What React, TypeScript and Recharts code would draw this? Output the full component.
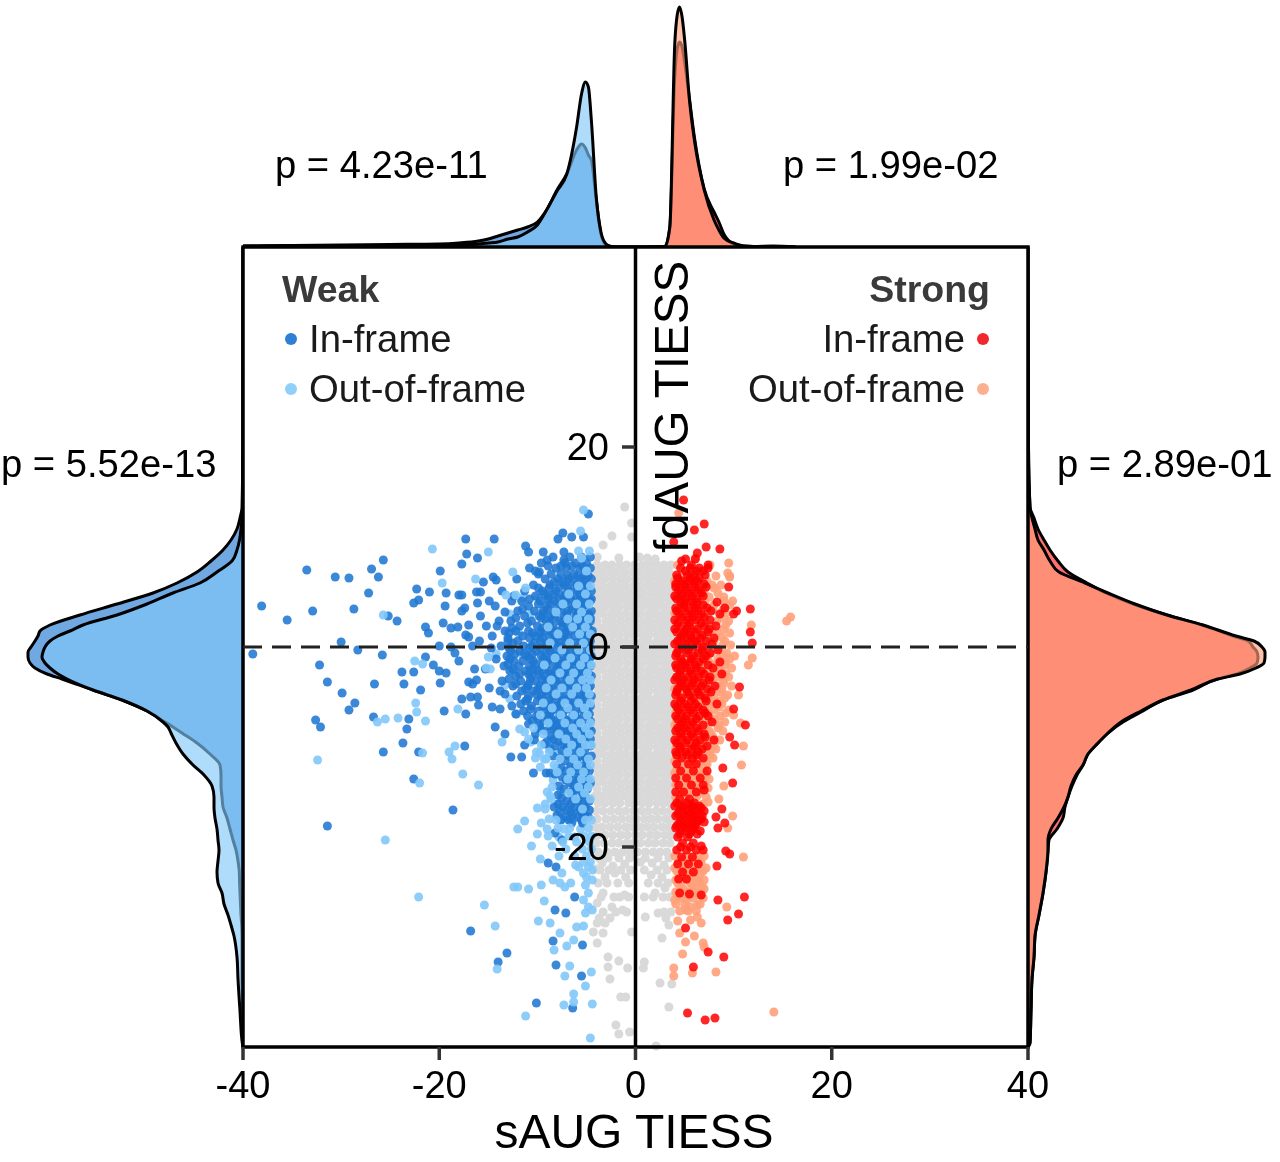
import React from 'react';
import { AreaChart, Area, ScatterChart, Scatter, XAxis, YAxis, ZAxis, ReferenceLine, ReferenceArea } from 'recharts';

// --- marginal densities, heights in px-like units above the panel edge ---
const weakTopX = [-40,-30,-25,-20,-18,-16,-15,-14,-13,-12,-11,-10,-9,-8,-7,-6,-5.5,-5.1,-4.8,-4.5,-4,-3.5,-3,-2.5,-2,0];
const weakTopIn = [1,2,2.5,3,4,6,8,11,14,17,20,25,38,57,73,97,103,99,92,87,47,12,2,0.5,0,0];
const weakTopOut = [1,1.5,1.5,1.5,2,3,4,5,8,10,15,22,38,56,73,120,153,165,160,127,50,14,3,0.5,0,0];
const strongTopX = [0,3,3.5,4,4.25,4.5,4.75,5,5.5,6,7,8,8.5,9,10,11,12,14,16.3];
const strongTopIn = [0,0.5,20,170,198,205,200,185,148,110,58,35,25,13,3,1,0.5,0.5,0];
const strongTopOut = [0,0.5,20,203,232,240,230,208,147,107,57,27,17,9,4,1,0.5,1,0];

const leftY = [40,20,13.9,12.9,11.8,10.7,9.7,8.6,7.5,6.4,5.4,4.3,3.2,2.2,1.6,1.1,0.6,0,-0.5,-1,-1.6,-2.1,-2.7,-3.2,-4.3,-5.3,-6.4,-7.5,-8,-8.6,-9.6,-10.7,-11.8,-12.8,-13.9,-15,-16,-17.1,-18.2,-19.3,-20.3,-21.4,-22.5,-23.6,-24.6,-25.7,-26.8,-27.8,-28.9,-31,-33.2,-36.4,-39.6,-40];
const leftIn = [0,0.2,1,3,6,12,20,32,46,66,90,126,163,193,203,205,208,212,215,215,213,208,196,181,150,121,96,78,70,61,46,33,23,22,22,21,20,16,13,10,7,5,3.7,3.4,3,2.5,2,1.3,1,1,1,0.7,0.3,0];
const leftOut = [0,0.2,0.5,1,2,3.5,6,11,26,43,70,96,126,160,173,185,193,198,200,201,198,193,185,176,150,121,96,80,75,72,67,60,50,39,31,29,29,28,26,25,24,25,26,25,21,19,15,12,9,6,5,3,0.7,0];

const rightY = [40,20,14,12.9,11.8,10.7,9.7,8.6,7.5,6.4,5.4,4.3,3.2,2.2,1.1,0.6,0,-0.5,-1,-1.6,-2.1,-2.7,-3.2,-4.3,-5.3,-6.4,-7.5,-8.6,-9.6,-10.7,-11.8,-12.8,-13.9,-15,-16,-17.1,-18.2,-19.3,-20.3,-22.5,-24.6,-26.8,-28.9,-31,-33.2,-36.4,-39.6,-40];
const rightIn = [0,0.5,2,6,10,16,22,30,40,59,78,105,139,174,205,220,225,229,230,229,222,209,189,165,135,115,95,80,70,60,55,49,44,40,37,35,29,21,20,18,15,11,7,6,4,3,2,0];
const rightOut = [0,0.5,2,4,7,10,16,22,31,57,80,107,139,175,208,226,234,237,237,236,228,212,190,163,135,113,93,80,70,60,55,48,43,40,36,30,23,20,20,18,15,11,7,6,4,3,2,0];

// --- scatter points: sparse ones as [x, y], dense ones as rows of [y, x, x, ...] ---
const weakInSparse = [[-38.1,4.1],[-35.5,2.7],[-32.9,3.6],[-33.5,7.7],[-30.6,7],[-29.2,6.9],[-26.9,7.8],[-26.2,7],[-25.7,8.7],[-27.2,5.4],[-28.7,3.8],[-30,0.5],[-39,-0.7],[-28.3,-0.3],[-25.8,-0.8],[-32.2,-1.8],[-31.4,-3.5],[-29.9,-4.6],[-28.6,-5.6],[-29.2,-6.3],[-26.6,-3.7],[-23.6,-3.7],[-23.8,-2.5],[-22.6,-2.5],[-21.9,-4.3],[-20.6,-1.8],[-20,-2.4],[-19.3,-2.6],[-19.9,-3.6],[-21.4,-1],[-32.6,-7.3],[-32.1,-8],[-26.7,-7],[-23.3,-8.2],[-23.1,-7.2],[-23.7,-9.6],[-25.7,-10.5],[-22.1,-10.5],[-19.5,-6.4],[-17.3,-6.7],[-17.7,-5.2],[-16.8,-5],[-16,-5.8],[-16.1,-5],[-14.6,-6],[-13.8,-6.2],[-14.3,-8],[-13.3,-8.7],[-11.3,-9.8],[-10.3,-9.3],[-17.4,-9.9],[-12.7,-11],[-11.6,-11],[-10.4,-12.6],[-9.1,-12.6],[-8.7,-12.6],[-22.6,-13.2],[-17.3,10.8],[-14.4,10.8],[-17.2,9.3],[-16.1,8.9],[-17.7,8.3],[-19.9,7.6],[-22.3,5.8],[-22.1,4.7],[-22.6,4.4],[-21,5.5],[-19.3,5.4],[-18,5.2],[-17.7,5.2],[-19.4,4.1],[-17.4,3.9],[-17.7,3.6],[-16.2,5.5],[-15.8,5.5],[-16.1,4.4],[-14.5,7],[-14.2,6.7],[-15.5,6.5],[-14.3,4.1],[-13.3,3.5],[-12.6,4.6],[-25.2,3.1],[-24.3,2.6],[-21.4,2],[-21.1,1.4],[-19.6,2.4],[-18.8,1.9],[-18.1,2],[-17,2.2],[-17.3,1.2],[-17,1],[-20,0.1],[-18.8,0],[-18.4,-0.6],[-18,-1.4],[-16.4,-2.2],[-17,-3.5],[-16.2,-3.3],[-16.6,-3.7],[-14.9,-4.1],[-13.8,-4.4],[-11.2,10.1],[-10.9,9.5],[-9.4,9.5],[-9,8.7],[-7.9,10.8],[-7.4,11.4],[-6.5,11],[-4.8,13.3],[-5.3,11],[-10.2,7.6],[-9.8,7.5],[-7.3,8.7],[-7.3,9.5],[-18.6,-16.3],[-31.4,-17.9],[-16.8,-28.4],[-13.1,-30.6],[-14,-31.5],[-8.4,-29.4],[-8.1,-31.8],[-5.5,-32.9],[-10.1,-35.6],[-6.4,-36.1],[-5.4,-29.8],[-8.2,-26.3],[-7.1,-26.6],[-6.2,-25],[-8.9,-21.6],[-8.1,-22],[-8.2,-18.6],[-7.5,-19.3]];
const weakInDense = [
  [8.4,-9.6,-7.2,-6.1,-5],[7.9,-10.8,-8.1,-7,-5.7,-4.6],[7.3,-9.9,-8.6,-7.6,-6.3,-5.2],[6.8,-12.1,-9.2,-7.9,-6.8,-5.6,-4.5],
  [6.2,-10.4,-8.7,-7.2,-6,-4.9],[5.6,-13.6,-11.3,-9.5,-8.1,-6.6,-5.4,-4.5],[5.1,-12.4,-10.2,-8.9,-7.4,-6.2,-5],[4.6,-14.9,-11.6,-9.7,-8.3,-7.1,-5.7,-4.6],
  [4.1,-10.9,-9.1,-7.8,-6.5,-5.3],[3.6,-12,-10.3,-9.4,-8,-6.9,-5.8,-4.5],[3.1,-15.8,-11.3,-9.8,-8.6,-7.3,-6.1,-5],[2.6,-13.9,-12.7,-10.6,-9.1,-7.7,-6.4,-5.4,-4.6],
  [2.1,-15.2,-14.1,-11.8,-10,-8.4,-7,-5.9],[1.6,-13.3,-12.2,-10.9,-9.3,-8,-6.7,-5.2,-4.4],[1.1,-14.6,-11.5,-10.2,-8.8,-7.5,-6.2,-4.9],[0.6,-15.9,-13,-12,-9.7,-8.3,-7.1,-5.6,-4.6],
  [0.1,-16.6,-13.7,-11.4,-10.6,-9.1,-7.8,-6.4,-5.1],[-0.4,-12.7,-11.8,-10.1,-8.7,-7.3,-6,-4.7],[-0.9,-13.1,-11,-9.6,-8.2,-6.9,-5.5,-4.5],[-1.4,-12.4,-11.5,-10.4,-9,-7.6,-6.3,-5],
  [-1.9,-13.4,-11.9,-10.8,-9.5,-8.1,-7,-5.7,-4.6],[-2.4,-12.8,-11.2,-10,-8.8,-7.4,-6.1,-5.2],[-2.9,-12.2,-10.6,-9.3,-8.3,-6.8,-5.5,-4.5],[-3.4,-13.6,-11.7,-10.2,-9,-7.7,-6.4,-4.9],
  [-3.9,-12.5,-11,-9.7,-8.5,-7.2,-5.9,-4.6],[-4.4,-11.6,-10.4,-9.2,-7.9,-6.6,-5.3],[-4.9,-12.1,-10.9,-9.6,-8.4,-7,-5.7,-4.5],[-5.4,-11.2,-10,-8.8,-7.5,-6.2,-5],
  [-5.9,-12.6,-10.6,-9.3,-8,-6.8,-5.5,-4.6],[-6.4,-11.4,-9.9,-8.6,-7.3,-6.1,-4.9],[-6.9,-11,-10.1,-9,-7.7,-6.4,-5.3],[-7.4,-10.5,-9.4,-8.2,-7,-5.8,-4.6],
  [-7.9,-9.8,-8.7,-7.5,-6.2,-5],[-8.4,-9.2,-8,-6.8,-5.6,-4.5],[-8.9,-8.6,-7.3,-6.1,-5.1],[-9.4,-9,-7.8,-6.6,-5.4],
  [-9.9,-8.2,-7,-5.8,-4.6],[-10.4,-7.5,-6.3,-5.2],[-10.9,-8.4,-6.8,-5.6,-4.5],[-11.4,-7.2,-6,-4.9],[-11.9,-6.6,-5.4],[-12.4,-7.1,-5.9,-4.7],
  [-13,-7.5,-6.2,-5.1],[-13.6,-6.7,-5.6,-4.6],[-14.2,-7.3,-6,-4.9],[-14.8,-7.9,-6.4,-5.3],[-15.4,-7,-5.8,-4.7],[-16,-8.3,-7.4,-6.2,-5.1],[-16.5,-7.7,-6.6,-5.5],[-17,-7.1,-5.9,-4.8],[-17.6,-6.5,-5.4]
];
const weakInFill = [
  [9,-8.4,-6.7,-5.5,-4.6],[8.1,-8.9,-7.6,-6.5,-5.4],[7.1,-6.9,-5.9,-4.8],[6.5,-8.3,-7.4,-6.4,-5.3],[5.9,-9.9,-8.8,-7.8,-6.9,-5.9,-4.8],[5.3,-9.3,-8.3,-7.1,-5.7],[4.8,-10.8,-8.9,-7.8,-6.6,-5.4,-4.5],[4.3,-9.9,-8.6,-7.4,-6.1,-5],[3.8,-11.5,-8.9,-7.6,-6.4,-5.5],[3.3,-9.4,-8.2,-7,-5.9,-4.8],
  [2.9,-12.2,-9.6,-8.3,-7,-5.7,-4.6],[2.4,-11,-8.8,-7.5,-6.2,-5.1],[1.9,-12.6,-9.5,-8.7,-7.4,-6.1,-4.8],[1.4,-12.9,-10.5,-9.7,-8.5,-7.2,-5.8,-4.6],[0.9,-13,-10.8,-9.5,-8.1,-6.9,-5.5],[0.4,-12.5,-10.3,-9,-7.7,-6.3,-5],
  [-0.1,-14.7,-12.9,-10.8,-9.7,-8.5,-7.1,-5.8,-4.6],[-0.7,-12.3,-11.3,-10.5,-9.2,-7.9,-6.6,-5.2],[-1.2,-14.2,-12.8,-10.7,-9.4,-8.5,-7.2,-5.9,-4.7],[-1.7,-13,-10.1,-8.9,-7.8,-6.5,-5.3],[-2.2,-15.3,-12.5,-10.5,-9.3,-8,-6.7,-5.5],[-2.7,-11.8,-10.9,-9.8,-8.6,-7.3,-6,-4.8],
  [-3.2,-12.9,-10.7,-9.5,-8.2,-7,-5.7],[-3.7,-12.2,-10.9,-9.1,-7.9,-6.6,-5.2],[-4.2,-11.2,-9.9,-8.7,-7.5,-6.2,-4.8],[-4.7,-13.3,-10.1,-8.9,-7.7,-6.3,-5.1],[-5.2,-11,-9.5,-8.2,-6.9,-5.6],[-5.7,-11.7,-8.9,-7.6,-6.4,-4.9],[-6.2,-10.7,-9.4,-8.1,-6.8,-5.4],[-6.7,-12.2,-8.8,-7.5,-6.2,-4.7],[-7.2,-9.9,-8.6,-7.2,-5.9],[-7.7,-10.9,-7.9,-6.6,-5.3],
  [-8.2,-9.7,-8.4,-7.1,-5.8,-4.7],[-8.7,-10.2,-7.6,-6.4,-5.2],[-9.2,-8.3,-7,-5.7,-4.6],[-9.7,-9.3,-7.4,-6.2,-5],[-10.2,-8.7,-6.9,-5.6],[-11.1,-7.7,-6.4,-5.1],[-12.1,-7.6,-6.2,-5],[-12.7,-8.2,-6.7,-5.4],[-13.3,-7.1,-5.9,-4.8],[-13.9,-7.8,-6.3,-5.1],[-14.5,-6.6,-5.5],[-15.1,-7.5,-6.3,-5],[-15.7,-7.9,-6.6,-5.4],[-16.3,-7,-5.7,-4.7],[-16.8,-8,-6.4,-5.2],[-17.3,-7.6,-6.8,-5.5]
];
const weakOutSparse = [[-20.7,9.8],[-15,9.5],[-12.5,7.5],[-19.7,6.4],[-16.3,6.8],[-25.7,3.2],[-22.5,-1.4],[-21.7,-1.7],[-22.4,-5.6],[-22.3,-6.5],[-26.3,-7.5],[-25.5,-7.2],[-24.2,-7.1],[-21.4,-7.4],[-18.1,-6.2],[-32.4,-11.3],[-21.7,-10.6],[-19,-10.5],[-18.4,-9.9],[-18.7,-11.2],[-17.6,-12.7],[-15,-1],[-15.2,-2.1],[-13.6,-9.5],[-11.3,-8.5],[-10.2,-11.1],[-9.3,-11.2],[-11.2,5.9],[-13.2,5.2],[-12.2,5.2],[-5.3,13.7],[-5.6,11.6],[-25.5,-19.3],[-22,-13.6],[-16,-13.8],[-22.1,-25],[-15.4,-25.8],[-14.3,-27.9],[-14.1,-32.2],[-11.2,-36.9],[-9.9,-27.4],[-8.7,-27.6],[-7.7,-28.6],[-7,-29.9],[-6.3,-29.3],[-8.3,-30.3],[-6.7,-31.9],[-7.2,-32.9],[-5.1,-33.9],[-4.5,-32.5],[-6.3,-34.7],[-6.3,-35.5],[-7.3,-35.8],[-4.4,-35.7],[-4.6,-39.1],[-12.4,-24],[-12,-24],[-10.9,-24.2],[-9.6,-23.8],[-9.3,-25.4],[-12,-18.2],[-11.3,-17.4],[-10,-16.1],[-8.7,-14.9],[-10.6,-19.9],[-10,-18.7],[-9.6,-17.6],[-9.7,-21.2],[-8.5,-19.9],[-8.4,-23.3],[-7.7,-23.6],[-7.2,-24],[-6.6,-23.6],[-6,-28],[-5.3,-27.9],[-7.5,-22.6],[-6.1,-21.8],[-5,-23],[-4.4,-23.3],[-5.1,-23.8],[-4.8,-24.6],[-5.3,-25.3],[-4.8,-26],[-5.1,-26.6],[-4.4,-22.3],[-5.3,-22.6],[-4.4,-26.3]];
const weakOutBack = [
  [6.5,-5.2,-7.6],[4.9,-11.5,-9.9,-6.9],[3.3,-12.8,-10.7,-8.9],[1.4,-11.9,-9.9,-7.1],[-0.7,-14.2,-11.6,-8.9,-6.5],[-2.2,-14.8,-12.4,-10.4,-7.2],[-3.8,-13.3,-9.9,-6.8],[-5.2,-12.8,-9.7,-7.6],
  [-6.7,-12.1,-8.4,-6.2],[-8.2,-11.8,-9.8,-7.9],[-9.5,-10.7,-8.7,-6.7],[-10.6,-9.8,-7.9,-6.4],[-12,-9.7,-8,-6.5],[-13.3,-8.4,-7,-5.7],[-14.5,-9,-7.6,-6.3],[-15.7,-9.2,-7.8,-6.5],[-17.2,-8.8,-7.5,-6.3],[-18.2,-9,-7.3,-5.6],[-19,-7.8,-6.2]
];
const weakOutFront = [
  [9.6,-5.8,-4.7],[8.9,-5.5],[7.6,-5],[6.1,-5.8,-4.6],[5.3,-6.8,-5.1],[4.3,-7.4,-6,-4.7],[3.5,-8.1,-5.5],[2.8,-6.9,-5.9,-4.8],[2,-8.9,-6.4,-5.1],[1.3,-7.9,-5.7,-4.6],[0.4,-8.7,-6.7,-5.3],
  [-0.3,-7.5,-5.8,-4.6],[-1.1,-8.2,-6.6,-5.2],[-1.8,-9.3,-7.1,-5.6,-4.5],[-2.6,-7.7,-6.3,-4.9],[-3.3,-8.6,-6.7,-5.4,-4.6],[-4.1,-9.1,-7.5,-6,-5],[-4.7,-8.1,-6.5,-4.7],[-5.6,-9.4,-7.2,-5.8,-4.6],
  [-6.1,-8.5,-6.9,-5.2],[-6.8,-9.7,-7.6,-6.3,-4.9],[-7.6,-8.9,-7.2,-5.6,-4.6],[-8.1,-10.4,-6.4,-5.1],[-8.7,-9.4,-7.8,-6,-4.7],[-9.2,-10.9,-7.1,-5.5],[-9.8,-9.6,-6.5,-5.1,-4.5],[-10.5,-10.1,-8.8,-6.9,-5.6],[-11.2,-9.1,-7.7,-6.3,-4.8],[-11.8,-8.3,-5.9,-4.6],[-12.5,-8,-6.6,-5.3],
  [-13.2,-6.9,-5.5,-4.6],[-14,-8.5,-5.8,-4.8],[-14.6,-6.8,-5.2],[-15.2,-8.6,-6.1,-4.6],[-16.2,-9.2,-5.4],[-17.3,-8.1,-5.1,-4.5],[-18.1,-7.9,-6.7,-4.8],[-18.9,-8.9,-6.8,-5.2,-4.5],[-19.5,-7.4,-6,-4.7],[-20.2,-7.1,-5.4,-4.5],[-20.9,-7.8,-6.2,-5],[-21.5,-5.3,-4.6],[-22,-5.8,-4.8]
];
const strongInSparse = [[4.9,14.7],[7,12.3],[6,11.7],[3.9,10.5],[7.2,10],[8.6,9.8],[4.7,8.6],[5.7,8.2],[6.3,9.4],[7.4,8.2],[9.5,6],[11.7,3.8],[10.3,3.6],[11.7,1.5],[11.9,0.4],[10.6,-4],[11.2,-7.8],[10,-6.2],[9.6,-9],[10.1,-9.8],[8.9,-12.1],[9.9,-13.6],[7,-14.3],[8.8,-16.2],[8.2,-17],[8.4,-18.1],[9.1,-17.6],[7,-17.5],[9.2,-20.4],[9.6,-20.7],[8.3,-21.9],[6.7,-19.9],[8.4,-25.3],[11.1,-25],[10.5,-26.7],[9.4,-27.3],[5.1,-28.1],[7.4,-30.5],[9,-31],[5.9,-32],[5.3,-36.6],[7.1,-37.3],[8.1,-37.1],[4.5,-24.6],[5.5,-24.7],[6.7,-24.8]];
const strongInDense = [
  [7.6,5.1,6.2,6.9],[6.9,4.3,5.6,6.5],[6.3,4.1,4.9,5.9,7],[5.7,4.4,5.3,6.4],[5.1,4,4.8,5.8,6.9],[4.5,4.6,5.5,6.3,8.3],[3.9,4.1,5,6.1,7.3,9.1],[3.3,4.5,5.7,6.7,8.6,10],[2.7,4,5.2,6.2,7.6],[2.1,4.7,5.5,7,8.2],
  [1.5,4.2,5,6,7.4],[0.9,4.6,5.7,6.6,8],[0.3,4,5.1,6.3,7.8],[-0.3,4.4,5.4,6.8,8.4],[-0.9,4.1,5.9,7.2],[-1.5,4.8,5.6,6.5,8.6],[-2.1,4.2,5.2,6.2,7.9],[-2.7,4.5,5.8,7,8.8],[-3.3,4,4.9,6,7.5],[-3.9,4.6,5.5,6.7,8.1],
  [-4.5,4.2,5.3,6.4,7.7],[-5.1,4.7,5.9,7.1],[-5.7,4,5,6.1,8.3],[-6.3,4.4,5.6,6.9],[-6.9,4.1,5.2,6.5,7.4],[-7.5,4.8,5.8,7.8],[-8.1,4.3,5,6.2],[-8.7,4.6,5.7,7],[-9.3,4,5.3,6.6,8],[-9.9,4.5,6,7.3],
  [-10.5,4.1,5.1,6.4],[-11.1,4.7,5.8,6.9],[-11.7,4.2,5.4,6.2],[-12.4,4.6,5.9,7.3],[-13.1,4.1,5.2,6.6],[-13.8,4.4,5.7,6.9],[-14.5,4.1,4.9,6.2],[-15.2,4.5,5.5],[-15.9,4,4.9,5.8,6.5],[-16.4,4.5,5.4,6.2,7],[-16.9,4.1,5,5.9,6.8],
  [-17.4,4.6,5.6,6.4],[-17.9,4.2,5.1,6],[-18.4,4.7,5.7,6.6],[-19,4.3,5.3],[-19.6,4.8,5.9],[-20.3,4.2,5.2,6.2,6.9],[-21,4.7,5.8],[-21.7,4.3,5.4,6.4],[-22.5,4.8,5.9],[-23.2,4.4,5.2]
];
const strongOutSparse = [[4.4,13.4],[9.5,8.4],[9.6,7],[7.8,6.2],[9.9,4.6],[11.8,2.2],[15.8,3],[15.4,2.6],[11.9,-1.1],[11.5,-1.8],[10.5,-4.8],[10,-6.8],[10.7,-7.6],[11,-9.9],[10.8,-11.8],[9,-13.9],[8.5,-15.2],[7.4,-15.5],[9.9,-16.9],[9.4,-18.1],[11,-21],[9.3,-26],[4.3,-27.4],[4.5,-28.6],[5.1,-29.5],[6,-28.9],[6.9,-29.6],[7,-30],[4.8,-30.7],[3.9,-32.1],[3.9,-32.9],[5.8,-32.6],[8.2,-32.5],[14.1,-36.5],[6.7,-27.6],[5.6,-27.3],[6.3,-27],[5.1,-26.3],[4,-25.3],[5.2,-25.3],[6.3,-25.8],[5.6,-26]];
const strongOutDense = [
  [8.9,6.1],[7.4,5.7,9.4],[6.6,4,5.2,6.1,7.3],[5.9,4.5,6.9,8],[5,4.1,5.4,7.5,9],[4.2,4.7,6.6,8,9.6],[3.4,4,5.2,7.4,9.2],[2.6,4.4,6.6,8.3,9.5],[1.8,4.1,6,7.8,9],[1,4.6,5.4,7.2,8.8],
  [0.2,4.2,5.8,7.5,8.9,9.7],[-0.6,4.8,6.4,7.7,9.3],[-1.2,4.3,5.5,7,8.4,9.6],[-1.8,4.1,6.9,7.9,9.1],[-2.4,4.7,5.9,7.3,8.7],[-3,4.2,5.3,6.7,8.2,9.5],[-3.6,4.5,5.8,7.2,9],[-4.2,4,6.2,7.9,8.8],[-4.8,4.7,5.5,7.3,9.4],[-5.4,4.2,6.5,7.8,8.6],
  [-6,4.6,5.4,7.1,8.5],[-6.6,4.1,5.8,7.4,9.2],[-7.2,4.5,6.1,8.1],[-7.8,4,5.3,6.7,8.5],[-8.4,4.7,5.9,7.5,8.9],[-9,4.2,5.5,6.8,7.9],[-9.6,4.6,6.1,7.3],[-10.2,4.1,5.4,6.9,8.2],[-10.8,4.5,5.8,7.6],[-11.4,4,5.1,6.4,7.2],
  [-12,4.4,5.6,6.9],[-12.6,4,5,6.1,7],[-13.2,4.5,5.5,6.5,7.5],[-13.8,4.1,5,6,7.1],[-14.4,4.6,5.6,6.7],[-15,4.1,5.1,6.2,7.2],[-15.7,4.4,5.7,6.9],[-20.9,4,5.3,6.4,7],[-21.5,4.4,5.7,6.7],[-22.1,4,5,6.2,7.2],[-22.7,4.5,5.6,6.6],[-23.3,4.1,5.2,6.3,7],
  [-23.9,4.6,5.8,6.8],[-24.5,4.1,5.2,6.4],[-25.1,4.6,5.9,6.9],[-25.7,4.1,5,6.6],[-26.4,4.5,5.4,6.2]
];
const neutralSparse = [[-1.1,14],[-0.4,12.4],[-2.4,11.1],[-3.3,10.2],[-0.4,11],[-1.7,8.9],[-3.9,9],[1.2,8.9],[2,8.8],[0.4,9],[-3.1,-23],[-2.1,-22.6],[-1,-23],[1.6,-22.8],[2.7,-23],[-3.3,-24.6],[-2.2,-25],[-1.1,-24.8],[0.9,-25],[2,-24.6],[3,-24.1],[-3.9,-25.6],[-2.4,-26],[-1.3,-26.3],[1,-27],[2.3,-26.6],[3.4,-27.8],[-3.9,-27.6],[-3.1,-27.6],[-4.3,-28.5],[-3.3,-28.6],[-0.4,-28.5],[-3.9,-29.6],[2.7,-29.1],[-2.8,-31],[-1.7,-31.4],[-2.8,-32],[-0.8,-32.1],[0.9,-31.5],[0.8,-32.1],[-2.6,-33.2],[2.5,-33.6],[3.7,-33.7],[-1.5,-35],[-1,-35],[3.4,-36],[-2,-37.8],[-1.7,-38.7],[-0.6,-38.5],[2.1,-39.9],[-3.4,-21.6],[-2.3,-21.9],[-1.1,-21.7],[0.5,-21.5],[1.7,-21.6],[2.9,-21.8],[-4,-22.2]];
const neutralLower = [
  [-21.1,-3.7,-2.8,-1.7,-0.6,1,2.3,3.4],[-22.3,-3.6,-2.7,-1.5,-0.5,0.9,2.2,3.2],[-23.6,-3.8,-2.9,-1.8,-0.7,1.3,2.3,3.3],[-25,-3.5,-1.6,-0.7,1.8,2.8,3.5],[-26.5,-3.3,-2,-0.9,2.9,3.6],[-27.1,-3.7,-2.6,3.1]
];
const neutralDense = [
  [8.2,-3.9,-3.1,-2.4,-1.6,-0.9,-0.1,0.7,1.4,2.2,2.9,3.6],[7.5,-4.1,-3.4,-2.6,-1.9,-1.1,-0.3,0.4,1.2,1.9,2.7,3.4],[6.8,-3.8,-3.1,-2.3,-1.5,-0.8,0,0.8,1.5,2.3,3,3.7],[6.1,-4,-3.3,-2.5,-1.8,-1,-0.2,0.5,1.3,2,2.8,3.5],
  [5.4,-3.8,-3,-2.2,-1.5,-0.7,0.1,0.8,1.6,2.3,3.1,3.7],[4.7,-4.1,-3.4,-2.6,-1.9,-1.1,-0.4,0.4,1.1,1.9,2.6,3.4],[4,-3.8,-3.1,-2.3,-1.6,-0.8,-0.1,0.7,1.5,2.2,3,3.6],[3.3,-4,-3.3,-2.5,-1.8,-1,-0.2,0.5,1.3,2,2.8,3.5],
  [2.6,-3.9,-3,-2.3,-1.5,-0.7,0,0.8,1.5,2.3,3,3.7],[1.9,-4.1,-3.4,-2.6,-1.9,-1.1,-0.3,0.4,1.2,1.9,2.7,3.4],[1.2,-3.8,-3.1,-2.3,-1.6,-0.8,-0.1,0.7,1.4,2.2,2.9,3.6],[0.5,-4,-3.3,-2.5,-1.7,-1,-0.2,0.6,1.3,2.1,2.8,3.5],
  [-0.2,-3.9,-3,-2.2,-1.5,-0.7,0.1,0.8,1.6,2.3,3.1,3.7],[-0.9,-4.1,-3.4,-2.6,-1.8,-1.1,-0.3,0.4,1.2,1.9,2.7,3.4],[-1.6,-3.8,-3.1,-2.3,-1.6,-0.8,0,0.7,1.5,2.2,3,3.6],[-2.3,-4,-3.3,-2.5,-1.8,-1,-0.2,0.5,1.3,2,2.8,3.5],
  [-3,-3.9,-3,-2.3,-1.5,-0.7,0,0.8,1.5,2.3,3,3.7],[-3.7,-4.1,-3.4,-2.6,-1.9,-1.1,-0.3,0.4,1.2,1.9,2.7,3.4],[-4.4,-3.8,-3.1,-2.3,-1.6,-0.8,-0.1,0.7,1.4,2.2,2.9,3.6],[-5.1,-4,-3.3,-2.5,-1.7,-1,-0.2,0.6,1.3,2.1,2.8,3.5],
  [-5.8,-3.9,-3,-2.2,-1.5,-0.7,0.1,0.8,1.6,2.3,3.1,3.7],[-6.5,-4.1,-3.4,-2.6,-1.8,-1.1,-0.3,0.4,1.2,1.9,2.7,3.4],[-7.2,-3.8,-3.1,-2.3,-1.6,-0.8,0,0.7,1.5,2.2,3,3.6],[-7.9,-4,-3.3,-2.5,-1.8,-1,-0.2,0.5,1.3,2,2.8,3.5],
  [-8.6,-3.9,-3,-2.3,-1.5,-0.7,0,0.8,1.5,2.3,3,3.7],[-9.3,-4.1,-3.4,-2.6,-1.9,-1.1,-0.3,0.4,1.2,1.9,2.7,3.4],[-10,-3.8,-3.1,-2.3,-1.6,-0.8,-0.1,0.7,1.4,2.2,2.9,3.6],[-10.7,-4,-3.3,-2.5,-1.7,-1,-0.2,0.6,1.3,2.1,2.8,3.5],
  [-11.4,-3.9,-3,-2.2,-1.5,-0.7,0.1,0.8,1.6,2.3,3.1,3.7],[-12.1,-4.1,-3.4,-2.6,-1.8,-1.1,-0.3,0.4,1.2,1.9,2.7,3.4],[-12.8,-3.8,-3.1,-2.3,-1.6,-0.8,0,0.7,1.5,2.2,3,3.6],[-13.5,-4,-3.3,-2.5,-1.8,-1,-0.2,0.5,1.3,2,2.8,3.5],
  [-14.2,-3.9,-3,-2.3,-1.5,-0.7,0,0.8,1.5,2.3,3,3.7],[-14.9,-4.1,-3.4,-2.6,-1.9,-1.1,-0.3,0.4,1.2,1.9,2.7,3.4],[-15.6,-3.8,-3.1,-2.3,-1.6,-0.7,-0.1,0.7,1.4,2.2,2.9,3.6],[-16.4,-4,-3.3,-2.5,-1.7,-1,-0.2,0.6,1.3,2.1,2.8,3.5],
  [-17.2,-3.9,-3,-2.2,-1.4,-0.6,0.1,0.9,1.6,2.3,3.1,3.7],[-18,-4.1,-3.4,-2.6,-1.8,-1,-0.3,0.5,1.2,1.9,2.7,3.4],[-18.8,-3.8,-3.1,-2.3,-1.5,-0.8,0,0.7,1.5,2.2,3,3.6],[-19.6,-4,-3.2,-2.4,-1.7,-0.9,-0.2,0.5,1.3,2,2.8,3.5],[-20.5,-3.8,-2.9,-2.1,-1.3,-0.5,0.2,1,1.8,2.5,3.2]
];
const strongOutFill = [
  [8.2,4.3,7.6],[7.1,4.7,8.2,9.6],[6.2,5,6.6,8.7],[5.4,4.2,5.9,7,8.4],[4.6,5.2,7.1,9],[3.7,4.3,6.1,7.9,8.9],[2.9,5.4,7.1,8.7],[2.2,4.2,6.4,7.5,9.2],[1.4,5,6.7,8.3,9.6],[0.6,4.3,6.2,8,9.1],[-0.2,5.3,6.9,8.5],[-0.9,4.6,6.1,7.4,8.9,10.1],[-1.5,5.2,7.5,9.2],[-2.1,4.4,6.4,8.4,9.8],[-2.7,5.5,6.9,8,9.2],[-3.3,4.7,6.2,7.7,8.9],[-3.9,5.1,6.7,8.3,9.8],[-4.5,4.4,5.9,7.4,8.6],[-5.1,5.2,6.8,8,9.1],[-5.7,4.5,6.4,7.6,8.8],[-6.3,5,6.2,8,9.5],[-6.9,4.6,5.8,7.2,8.6],[-7.5,4.2,6.5,7.5,9.1],[-8.1,5.6,7.1,8.4],[-8.7,4.2,6.3,7.7],[-9.3,5.1,7.2,8.6],[-9.9,4.2,5.5,6.7,8],[-10.5,4.8,6,7.5],[-11.1,4.3,5.4,6.5,7.9],[-11.7,4.8,6,7.3],[-12.3,4.2,5.3,6.5],[-12.9,4.8,5.9,7.2],[-13.5,4.3,5.4,6.6],[-14.1,4.9,6.2,7.4],[-14.7,4.3,5.3,6.4],[-21.2,4.8,6],[-21.8,5,6.2],[-22.4,4.2,5.2,6.9],[-23,4.8,6.1],[-23.6,4.3,5.6,6.6],[-24.2,4.9,6,7],[-24.8,4.3,5.4,6.5]
];
const strongInFill = [
  [8.8,5.1,6.1],[7.9,4.6,5.6,6.5,7.4],[7.2,4.2,5.3,6,7.1],[6.6,4.7,5.5,6.3],[6,4.1,5.1,6.1,7.2],[5.4,4.7,5.6,6.7],[4.8,4.2,5.1,6.2],[4.2,4.9,5.9,6.9],[3.6,4.2,5.4,6.4,7.7],[3,4.8,5.9,7],[2.4,4.3,5.5,6.7],[1.8,4,5.2,6.3,7.5],[1.2,4.8,5.6,6.8],[0.6,4.3,5.3,6.1,7.2],[0,4.7,5.8,6.9],[-0.6,4.2,5.2,6.4,7.6],[-1.2,4.6,5.7,6.9],[-1.8,4.1,5,6.1,7.4],[-2.4,4.6,5.6,6.7],[-3,4.2,5.3,6.4,7.6],[-3.6,4.7,5.8,6.9],[-4.2,4.3,5.2,6.2,7.3],[-4.8,4.1,5.5,6.6],[-5.4,4.6,5.7,7.2],[-6,4.2,5.3,6.4],[-6.6,4.7,5.9,7.1],[-7.2,4.3,5.1,6.2],[-7.8,4.6,5.6,6.9],[-8.4,4.1,5.3,6.4],[-9,4.7,5.9,7.1],[-9.6,4.2,5.1,6.2],[-10.2,4.6,5.7,6.8],[-10.8,4.2,5.3,6.2],[-15.6,4.2,5.2,6],[-16.1,4.7,5.7,6.7],[-16.7,4.3,5.3,6.2],[-17.2,4.8,5.8,6.7],[-17.7,4.4,5.3,6.2],[-18.1,4.1,5,5.9],[-18.7,4.5,5.5,6.3],[-20,4.6,5.6]
];

const xTicks = [-40, -20, 0, 20, 40];
const yTicks = [-20, 0, 20];
// invisible anchors: recharts only draws axes for a chart that holds a series
const axisAnchors = [{ x: -40, y: -40 }, { x: 40, y: 40 }];

const FONT = '"Liberation Sans", Arial, sans-serif';
const PANEL = { left: 243, top: 247, right: 1028, bottom: 1047 };
const WIDTH = 1280;
const HEIGHT = 1162;
const BLUE = '#1f78d2';
const LIGHT_BLUE = '#82c8f9';
const RED = '#ff0000';
const SALMON = '#ffa07a';
const RED_FILL = '#ff1f1f';

const pairs = (list: number[][]) => list.map(([x, y]) => ({ x, y }));
const rows = (list: number[][]) => list.flatMap(([y, ...xs]) => xs.map((x) => ({ x, y })));

const weakInPoints = [...rows(weakInDense), ...rows(weakInFill), ...pairs(weakInSparse)];
const weakOutBackPoints = rows(weakOutBack);
const weakOutFrontPoints = [...rows(weakOutFront), ...pairs(weakOutSparse)];
const strongOutPoints = [...rows(strongOutDense), ...rows(strongOutFill), ...pairs(strongOutSparse)];
const strongInPoints = [...rows(strongInDense), ...rows(strongInFill), ...pairs(strongInSparse)];
const neutralPoints = [...rows(neutralDense), ...rows(neutralLower), ...pairs(neutralSparse)];

const weakTop = weakTopX.map((x, i) => ({ x, inFrame: weakTopIn[i], outFrame: weakTopOut[i] }));
const strongTop = strongTopX.map((x, i) => ({ x, inFrame: strongTopIn[i], outFrame: strongTopOut[i] }));
const weakSide = leftY.map((y, i) => ({ y, inFrame: leftIn[i], outFrame: leftOut[i] }));
const strongSide = rightY.map((y, i) => ({ y, inFrame: rightIn[i], outFrame: rightOut[i] }));

const layer: React.CSSProperties = { position: 'absolute' };

function TopDensity({ data, inColor, outColor }: { data: any[]; inColor: string; outColor: string }) {
  return (
    <div style={{ ...layer, left: PANEL.left, top: 0 }}>
      <AreaChart width={PANEL.right - PANEL.left} height={PANEL.top} data={data} margin={{ top: 0, right: 0, bottom: 0, left: 0 }}>
        <XAxis type="number" dataKey="x" domain={[-40, 40]} hide />
        <YAxis type="number" domain={[0, 247]} hide />
        <Area type="monotone" dataKey="inFrame" fill={inColor} fillOpacity={0.64} stroke="#000" strokeWidth={3} isAnimationActive={false} />
        <Area type="monotone" dataKey="outFrame" fill={outColor} fillOpacity={0.64} stroke="#000" strokeWidth={3} isAnimationActive={false} />
      </AreaChart>
    </div>
  );
}

function SideDensity({ data, inColor, outColor, left, width, reversed }: { data: any[]; inColor: string; outColor: string; left: number; width: number; reversed: boolean }) {
  return (
    <div style={{ ...layer, left, top: PANEL.top }}>
      <AreaChart layout="vertical" width={width} height={PANEL.bottom - PANEL.top} data={data} margin={{ top: 0, right: 0, bottom: 0, left: 0 }}>
        <XAxis type="number" domain={[0, width]} reversed={reversed} hide />
        <YAxis type="number" dataKey="y" domain={[-40, 40]} reversed hide />
        <Area type="monotone" dataKey="inFrame" fill={inColor} fillOpacity={0.64} stroke="#000" strokeWidth={3} isAnimationActive={false} />
        <Area type="monotone" dataKey="outFrame" fill={outColor} fillOpacity={0.64} stroke="#000" strokeWidth={3} isAnimationActive={false} />
      </AreaChart>
    </div>
  );
}

function PText({ x, y, children }: { x: number; y: number; children: string }) {
  return <div style={{ ...layer, left: x, top: y - 22, fontSize: 38.2, lineHeight: '44px', whiteSpace: 'nowrap', color: '#000' }}>{children}</div>;
}

function LegendDot({ x, y, color }: { x: number; y: number; color: string }) {
  return <div style={{ ...layer, left: x - 6, top: y - 6, width: 12, height: 12, borderRadius: 6, background: color }} />;
}

function LegendText({ x, right, y, bold, children }: { x?: number; right?: number; y: number; bold?: boolean; children: string }) {
  const pos = x !== undefined ? { left: x } : { right: WIDTH - (right as number) };
  return (
    <div style={{ ...layer, ...pos, top: y - 22, fontSize: bold ? 37.5 : 38.3, lineHeight: '44px', whiteSpace: 'nowrap', fontWeight: bold ? 700 : 400, color: bold ? '#3a3a3a' : '#1a1a1a' }}>
      {children}
    </div>
  );
}

export default function App() {
  const plotMargin = { top: PANEL.top, left: PANEL.left, right: WIDTH - PANEL.right, bottom: HEIGHT - PANEL.bottom };
  const tickStyle = { fontSize: 38, fill: '#000', fontFamily: FONT };
  const tickMark = { stroke: '#333', strokeWidth: 3.5 };
  return (
    <div style={{ position: 'absolute', left: 0, top: 0, width: WIDTH, height: HEIGHT, background: '#fff', overflow: 'hidden', fontFamily: FONT, filter: 'blur(0.6px)' }}>
      <TopDensity data={weakTop} inColor={BLUE} outColor={LIGHT_BLUE} />
      <TopDensity data={strongTop} inColor={RED_FILL} outColor={SALMON} />
      <SideDensity data={weakSide} inColor={BLUE} outColor={LIGHT_BLUE} left={0} width={PANEL.left} reversed />
      <SideDensity data={strongSide} inColor={RED_FILL} outColor={SALMON} left={PANEL.right} width={WIDTH - PANEL.right} reversed={false} />

      {/* points */}
      <div style={layer}>
        <ScatterChart width={WIDTH} height={HEIGHT} margin={plotMargin}>
          <XAxis type="number" dataKey="x" domain={[-40, 40]} hide />
          <YAxis type="number" dataKey="y" domain={[-40, 40]} hide />
          <ZAxis range={[78, 78]} />
          <Scatter data={neutralPoints} fill="#d9d9d9" isAnimationActive={false} />
          <Scatter data={weakOutBackPoints} fill={LIGHT_BLUE} fillOpacity={0.9} isAnimationActive={false} />
          <Scatter data={weakInPoints} fill={BLUE} fillOpacity={0.88} isAnimationActive={false} />
          <Scatter data={weakOutFrontPoints} fill={LIGHT_BLUE} fillOpacity={0.9} isAnimationActive={false} />
          <Scatter data={strongOutPoints} fill={SALMON} fillOpacity={0.9} isAnimationActive={false} />
          <Scatter data={strongInPoints} fill={RED} fillOpacity={0.85} isAnimationActive={false} />
        </ScatterChart>
      </div>

      {/* frame, x axis, dashed zero line */}
      <div style={layer}>
        <ScatterChart width={WIDTH} height={HEIGHT} margin={{ ...plotMargin, bottom: 0 }}>
          <XAxis type="number" dataKey="x" domain={[-40, 40]} ticks={xTicks} height={HEIGHT - PANEL.bottom} tick={tickStyle} tickLine={tickMark} tickSize={13} tickMargin={11} axisLine={false} interval={0} />
          <YAxis type="number" dataKey="y" domain={[-40, 40]} hide />
          <Scatter data={axisAnchors} fill="none" isAnimationActive={false} />
          <ReferenceArea x1={-40} x2={40} y1={-40} y2={40} fill="none" fillOpacity={0} stroke="#000" strokeWidth={3.5} />
          <ReferenceLine x={0} stroke="#000" strokeWidth={3.5} />
          <ReferenceLine y={0} stroke="#222" strokeWidth={3} strokeDasharray="19 10" />
        </ScatterChart>
      </div>

      {/* y axis sits on x = 0 */}
      <div style={layer}>
        <ScatterChart width={WIDTH} height={HEIGHT} margin={{ top: PANEL.top, right: WIDTH - PANEL.right, bottom: HEIGHT - PANEL.bottom, left: 635 - 100 }}>
          <XAxis type="number" dataKey="x" domain={[-40, 40]} hide />
          <YAxis type="number" dataKey="y" domain={[-40, 40]} ticks={yTicks} width={100} tick={tickStyle} tickLine={tickMark} tickSize={13} tickMargin={13} axisLine={false} interval={0} />
          <Scatter data={axisAnchors} fill="none" isAnimationActive={false} />
        </ScatterChart>
      </div>

      <div style={{ ...layer, left: 634, top: 1107, transform: 'translateX(-50%)', fontSize: 48, lineHeight: '50px', whiteSpace: 'nowrap', color: '#000' }}>sAUG TIESS</div>
      <div style={{ ...layer, left: 672, top: 407, transform: 'translate(-50%, -50%) rotate(-90deg)', fontSize: 47.5, lineHeight: '50px', whiteSpace: 'nowrap', color: '#000' }}>fdAUG TIESS</div>

      <PText x={275} y={165}>p = 4.23e-11</PText>
      <PText x={783} y={165}>p = 1.99e-02</PText>
      <PText x={1} y={464}>p = 5.52e-13</PText>
      <PText x={1057} y={464}>p = 2.89e-01</PText>

      <LegendText x={282} y={289} bold>Weak</LegendText>
      <LegendDot x={291} y={339} color="#2d80d4" />
      <LegendText x={309} y={339}>In-frame</LegendText>
      <LegendDot x={291} y={389} color="#8fd0fb" />
      <LegendText x={309} y={389}>Out-of-frame</LegendText>

      <LegendText right={990} y={289} bold>Strong</LegendText>
      <LegendText right={965} y={339}>In-frame</LegendText>
      <LegendDot x={983} y={339} color="#f0282d" />
      <LegendText right={965} y={389}>Out-of-frame</LegendText>
      <LegendDot x={983} y={389} color="#fdb08f" />
    </div>
  );
}
